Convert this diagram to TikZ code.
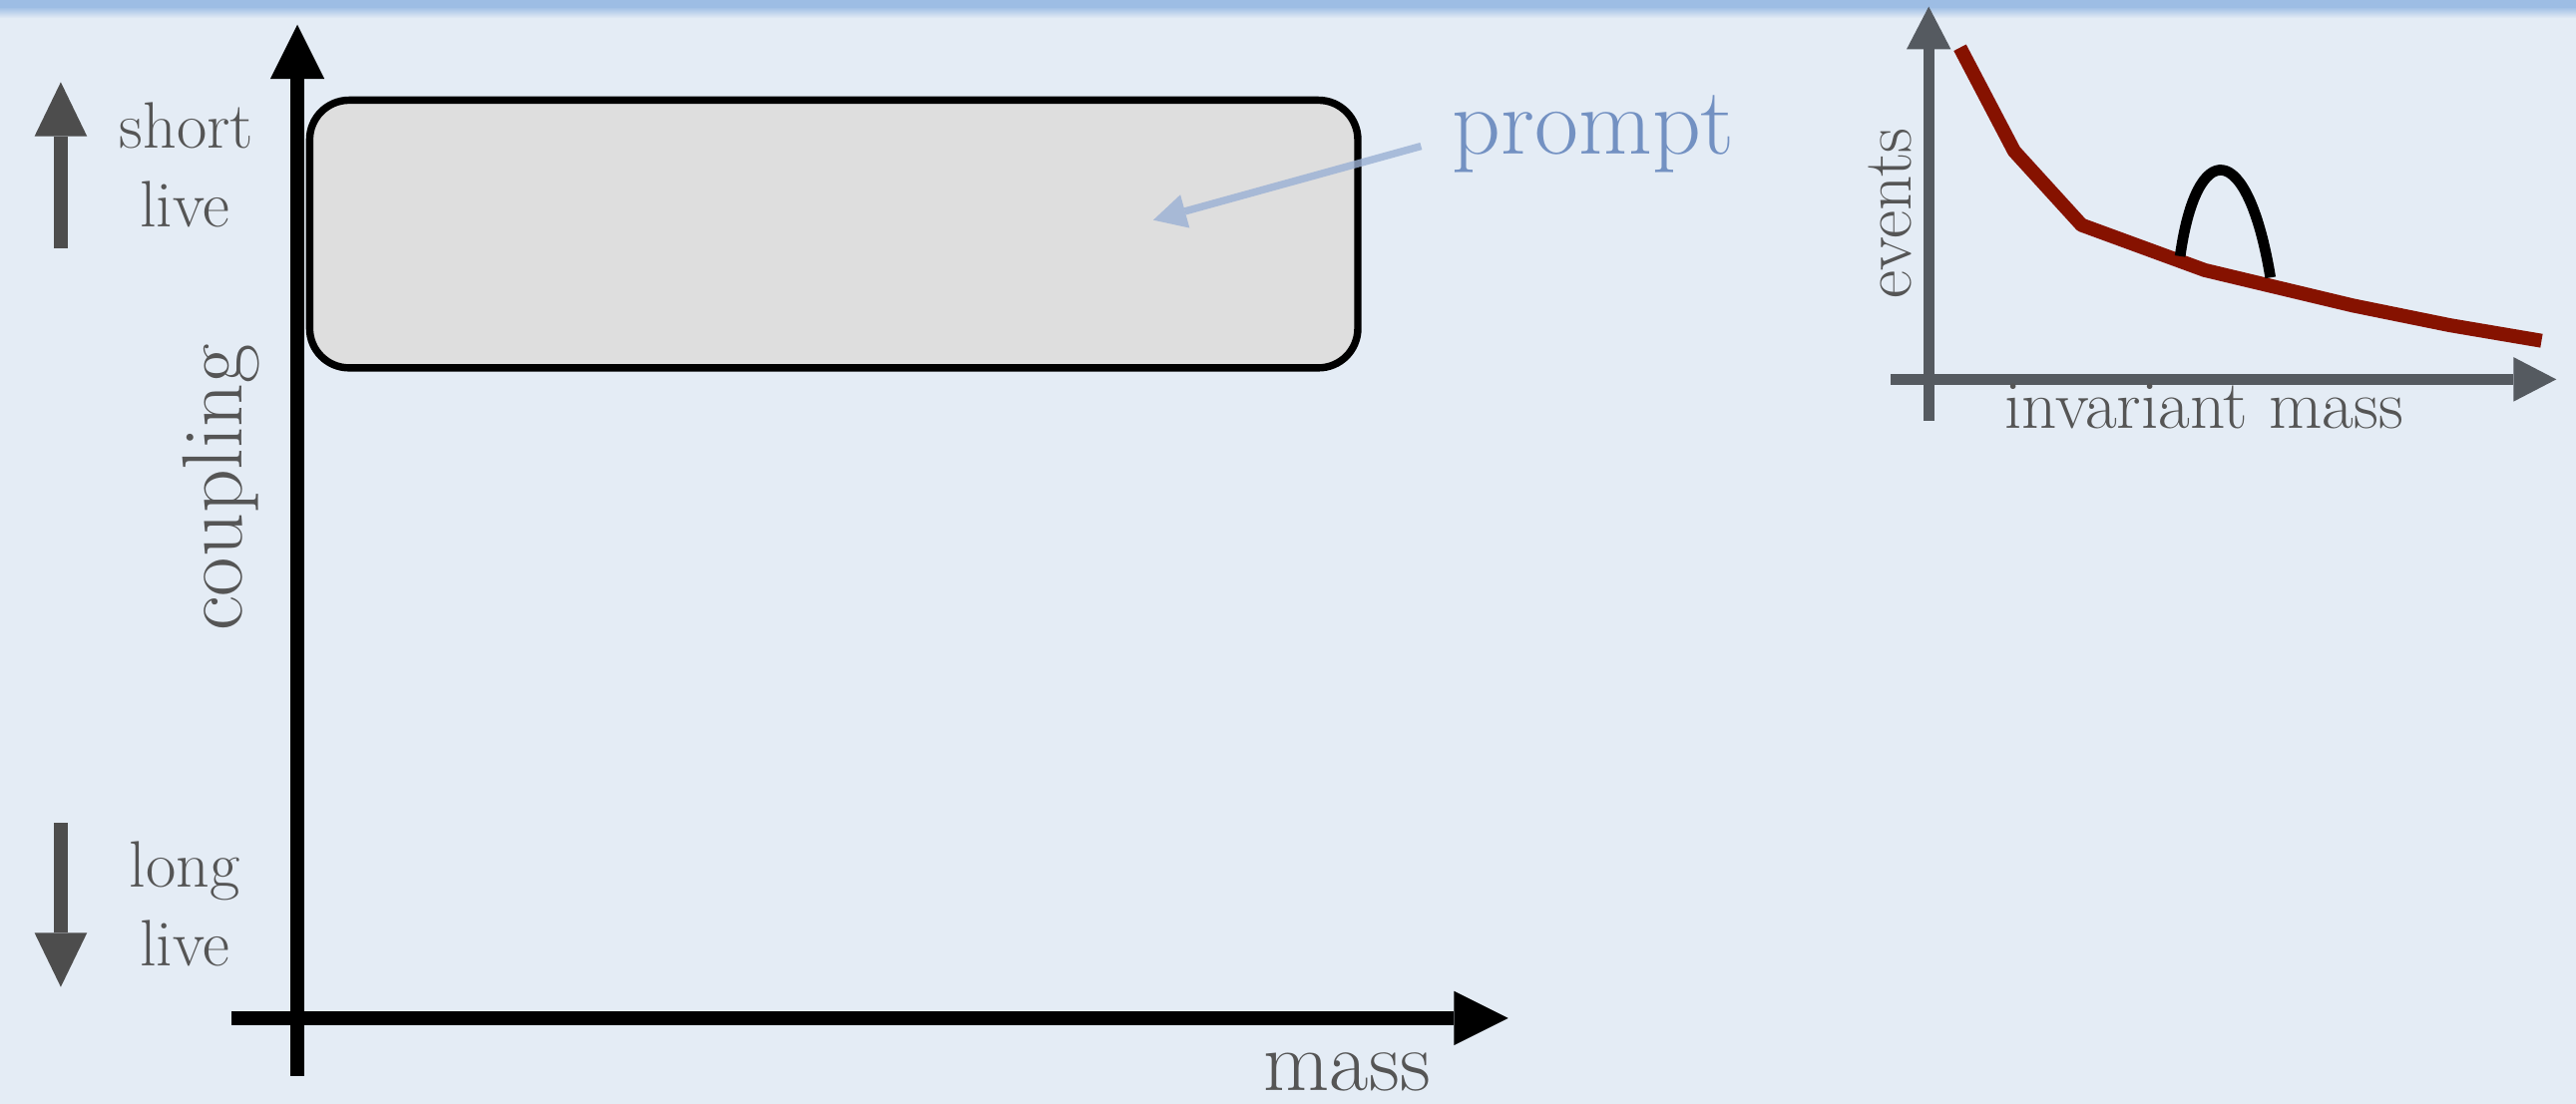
\documentclass[tikz,border=0pt]{standalone}
\usepackage{fontspec}
\usetikzlibrary{arrows.meta}
\definecolor{bg}{HTML}{E4ECF5}
\definecolor{band}{HTML}{9DBDE4}
\definecolor{lbl}{HTML}{555555}
\definecolor{arrgray}{HTML}{4D4D4D}
\definecolor{boxfill}{HTML}{DEDEDE}
\definecolor{promptc}{HTML}{7391C2}
\definecolor{promptarr}{HTML}{9AB0D4}
\definecolor{insetax}{HTML}{555A60}
\definecolor{bgred}{HTML}{861200}
\tikzset{
  mainaxis/.style={line width=8pt, black, -{Triangle[length=33pt,width=33pt,line width=0pt]}},
  sidearrow/.style={line width=8pt, arrgray, -{Triangle[length=33pt,width=32pt,line width=0pt]}},
  insetaxis/.style={line width=6.5pt, insetax, -{Triangle[length=26pt,width=27pt,line width=0pt]}},
  biglbl/.style={text=lbl, font=\fontsize{52}{60}\selectfont, inner sep=0pt, anchor=base},
  smalllbl/.style={text=lbl, font=\fontsize{40}{48}\selectfont, inner sep=0pt, anchor=base},
  insetlbl/.style={text=lbl, font=\fontsize{42}{50}\selectfont, inner sep=0pt, anchor=base},
  regionbox/.style={draw=black, line width=4.5pt, fill=boxfill, rounded corners=24pt, minimum width=638pt, minimum height=163pt, inner sep=0pt},
}
\begin{document}
\begin{tikzpicture}[x=1pt,y=-1pt]
% background
\fill[bg] (0,0) rectangle (1568,672);
\useasboundingbox (0,0) rectangle (1568,672);
\shade[top color=band, bottom color=bg] (0,4) rectangle (1568,11);
\fill[band] (0,0) rectangle (1568,5);

% main axes
\coordinate (ybot) at (181,655);
\coordinate (ytop) at (181,15);
\coordinate (xleft) at (141,620);
\coordinate (xright) at (918,620);
\draw[mainaxis] (ybot) -- (ytop);
\draw[mainaxis] (xleft) -- (xright);

% prompt region
\node[regionbox] (box) at (507.5,142.5) {};
\node[text=promptc, font=\fontsize{58}{66}\selectfont, inner sep=0pt, anchor=base] (prompt) at (970,94) {prompt};
\coordinate (pstart) at (865,89);
\coordinate (ptip) at (702,134);
\draw[line width=4.5pt, promptarr, opacity=0.8, -{Triangle[length=20pt,width=21pt,line width=0pt]}] (pstart) -- (ptip);

% labels
\node[biglbl] (mass) at (820,664) {mass};
\node[biglbl, rotate=90] (coupling) at (147,297) {coupling};

% side arrows
\coordinate (ua0) at (37,151);
\coordinate (ua1) at (37,50);
\draw[sidearrow] (ua0) -- (ua1);
\coordinate (da0) at (37,501);
\coordinate (da1) at (37,601);
\draw[sidearrow] (da0) -- (da1);
\node[smalllbl] (short) at (113.5,90) {short};
\node[smalllbl] (live1) at (112.5,138) {live};
\node[smalllbl] (long) at (112.5,540) {long};
\node[smalllbl] (live2) at (112.5,588) {live};

% inset plot
\coordinate (iybot) at (1174,256);
\coordinate (iytop) at (1174,4);
\coordinate (ixleft) at (1151,231);
\coordinate (ixright) at (1556,231);
\draw[insetaxis] (iybot) -- (iytop);
\draw[insetaxis] (ixleft) -- (ixright);
\draw[bgred, line width=8.5pt, line join=round] (1193,29) -- (1226,92) -- (1267,137) -- (1342,164.5) -- (1432,186) -- (1491,198) -- (1547,207.5);
\draw[black, line width=6.5pt] (1327,156) .. controls (1337,84) and (1368,84) .. (1382,169);
\node[insetlbl, rotate=90] (events) at (1163,130) {events};
\node[insetlbl] (invmass) at (1341.5,261) {invariant mass};
\end{tikzpicture}
\end{document}
